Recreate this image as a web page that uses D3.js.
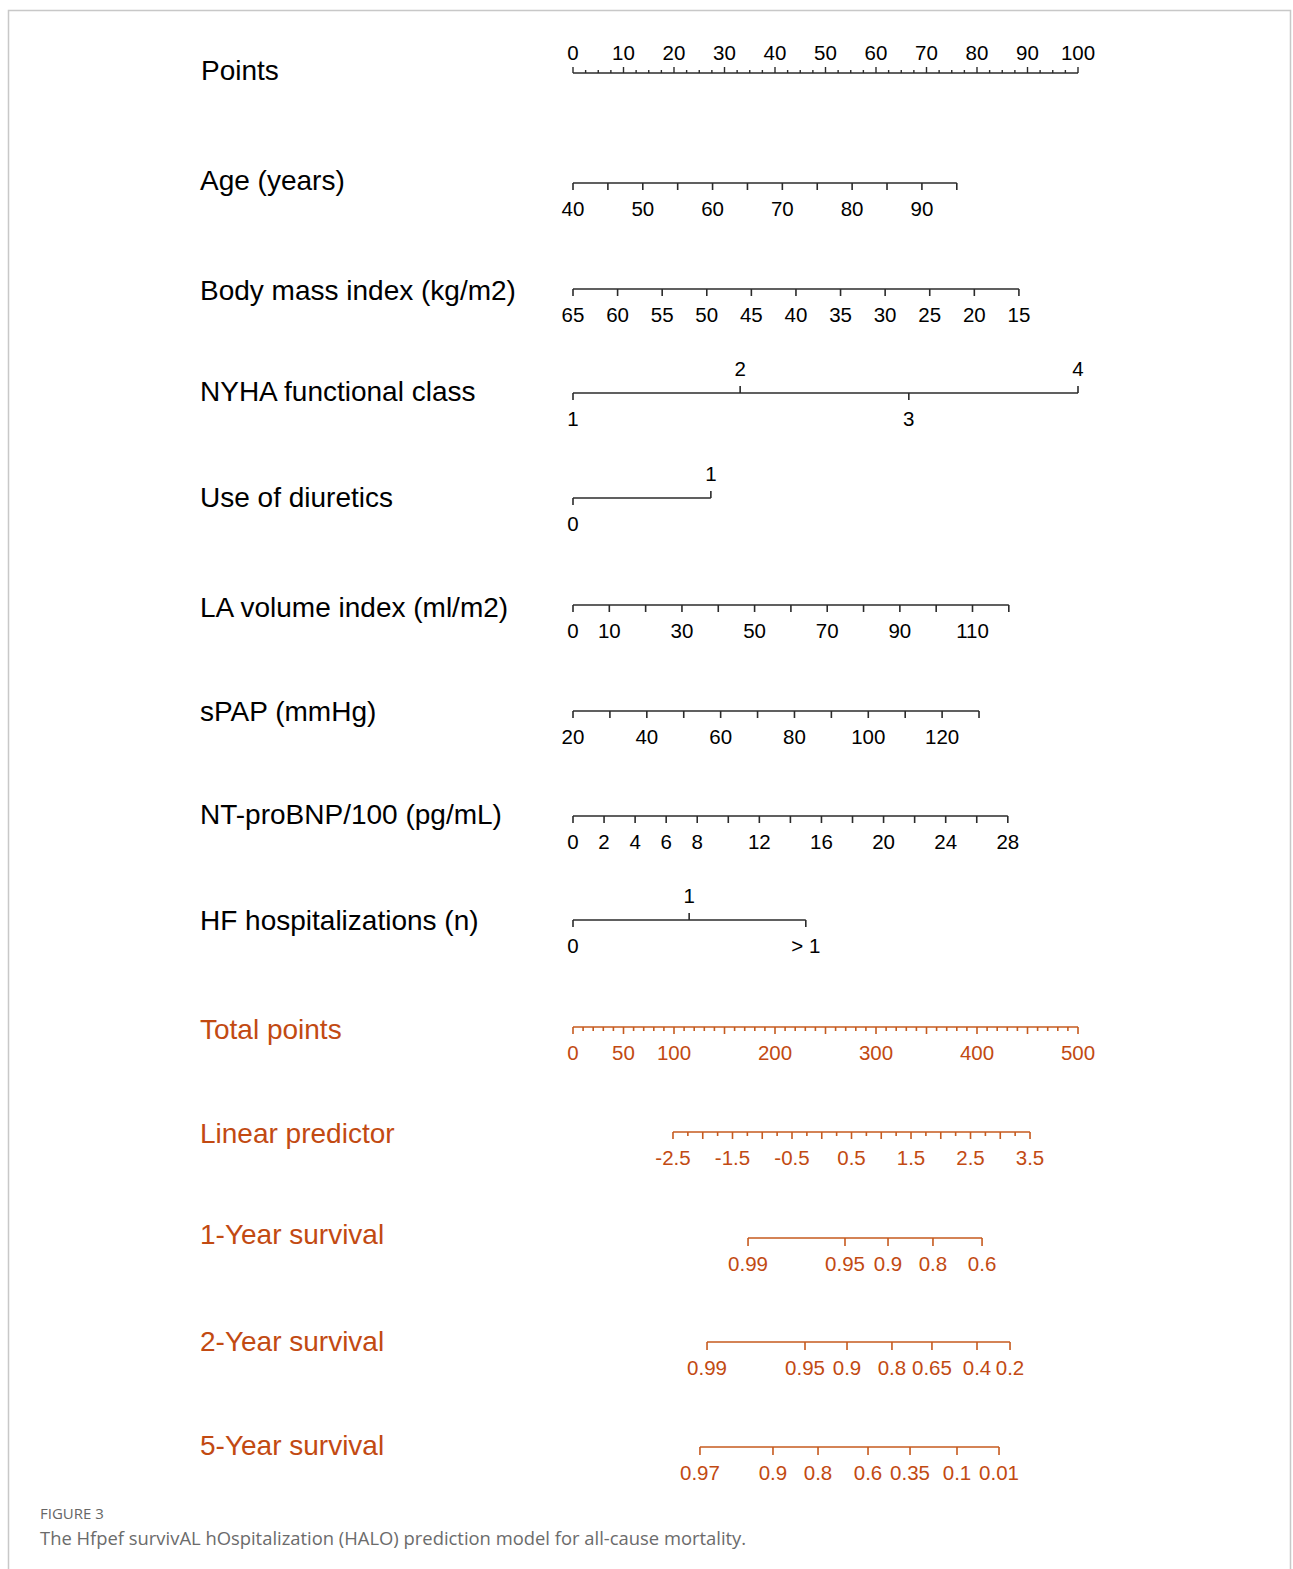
<!DOCTYPE html>
<html>
<head>
<meta charset="utf-8">
<script src="https://cdn.jsdelivr.net/npm/d3@7"></script>
<style>
  html, body { margin: 0; padding: 0; background: #fff; }
  svg { display: block; }
  .name { font-family: "Liberation Sans", Arial, sans-serif; font-size: 28px; }
  .tick-label { font-family: "Liberation Sans", Arial, sans-serif; font-size: 20.5px; }
  .caption-head { font-family: "Open Sans", Lato, sans-serif; font-size: 15px; fill: #666; }
  .caption { font-family: "Open Sans", Lato, sans-serif; font-size: 18.4px; fill: #6b6b6b; }
</style>
</head>
<body>
<div id="chart"></div>
<script>
// Nomogram values (points each value is worth)
const pointsTicks = d3.range(0, 101, 2.5);
const pointsLabels = [0, 10, 20, 30, 40, 50, 60, 70, 80, 90, 100];

const ageTicks = [40, 45, 50, 55, 60, 65, 70, 75, 80, 85, 90, 95];
const ageLabels = [40, 50, 60, 70, 80, 90];
const agePoints = [0, 76.0];          // points at age 40 and 95

const bmiTicks = [65, 60, 55, 50, 45, 40, 35, 30, 25, 20, 15];
const bmiPoints = [0, 88.3];          // points at bmi 65 and 15

const nyhaClasses = ['1', '2', '3', '4'];
const nyhaPoints = [0, 33.1, 66.5, 100];

const diureticsLevels = ['0', '1'];
const diureticsPoints = [0, 27.3];

const laTicks = [0, 10, 20, 30, 40, 50, 60, 70, 80, 90, 100, 110, 120];
const laLabels = [0, 10, 30, 50, 70, 90, 110];
const laPoints = [0, 86.3];

const spapTicks = [20, 30, 40, 50, 60, 70, 80, 90, 100, 110, 120, 130];
const spapLabels = [20, 40, 60, 80, 100, 120];
const spapPoints = [0, 80.4];

const bnpTicks = [0, 2, 4, 6, 8, 10, 12, 14, 16, 18, 20, 22, 24, 26, 28];
const bnpLabels = [0, 2, 4, 6, 8, 12, 16, 20, 24, 28];
const bnpPoints = [0, 86.1];

const hfLevels = ['0', '1', '> 1'];
const hfPoints = [0, 23.0, 46.1];

const totalTicks = d3.range(0, 501, 10);
const totalLabels = [0, 50, 100, 200, 300, 400, 500];

const lpTicks = d3.range(-2.5, 3.51, 0.25);
const lpLabels = [-2.5, -1.5, -0.5, 0.5, 1.5, 2.5, 3.5];
const lpTotal = [99.0, 452.5];         // total points at lp -2.5 and 3.5

const surv1Labels = ['0.99', '0.95', '0.9', '0.8', '0.6'];
const surv1Total = [173.3, 269.3, 311.9, 356.4, 405.0];
const surv2Labels = ['0.99', '0.95', '0.9', '0.8', '0.65', '0.4', '0.2'];
const surv2Total = [132.7, 229.7, 271.3, 315.8, 355.4, 400.0, 432.7];
const surv5Labels = ['0.97', '0.9', '0.8', '0.6', '0.35', '0.1', '0.01'];
const surv5Total = [125.7, 198.0, 242.6, 292.1, 333.7, 380.2, 421.8];

const W = 1293, H = 1569;
const BLACK = '#2b2b2b', ORANGE = '#c65a1e', ORANGE_TXT = '#c24a12';

const svg = d3.select('#chart').append('svg')
    .attr('width', W).attr('height', H);

// frame
svg.append('path')
    .attr('d', `M8.5,${H} V10.5 H1290.5 V${H}`)
    .attr('fill', 'none').attr('stroke', '#c8c8c8').attr('stroke-width', 1.5);

const xPoints = d3.scaleLinear().domain([0, 100]).range([573, 1078]);
const xTotal = d3.scaleLinear().domain([0, 500]).range([573, 1078]);

// draw one scale row: ticks = [{pos, label, side, len}]
function row(y, name, ticks, color, txtColor, nameDy) {
    const g = svg.append('g').attr('transform', `translate(0,${y})`);
    g.append('text').attr('class', 'name')
        .attr('x', 200).attr('y', nameDy || 0).attr('dy', '0.35em')
        .attr('fill', txtColor).text(name);
    const ext = d3.extent(ticks, d => d.pos);
    g.append('line')
        .attr('x1', ext[0]).attr('x2', ext[1])
        .attr('stroke', color).attr('stroke-width', 1.6);
    g.selectAll('line.tk').data(ticks).enter().append('line')
        .attr('class', 'tk')
        .attr('x1', d => d.pos).attr('x2', d => d.pos)
        .attr('y1', 0).attr('y2', d => d.side === 'up' ? -d.len : d.len)
        .attr('stroke', color).attr('stroke-width', 1.6);
    g.selectAll('text.tick-label').data(ticks.filter(d => d.label != null)).enter()
        .append('text').attr('class', 'tick-label')
        .attr('x', d => d.pos)
        .attr('y', d => d.side === 'up' ? -24 : 26)
        .attr('dy', '0.35em')
        .attr('text-anchor', 'middle')
        .attr('fill', txtColor)
        .text(d => d.label);
}

function numericTicks(values, labels, domain, pts) {
    const s = d3.scaleLinear().domain(domain).range(pts);
    return values.map(v => ({
        pos: xPoints(s(v)),
        label: labels.includes(v) ? v : null,
        side: 'down', len: 7
    }));
}

// Points axis: line with ticks pointing up, labels above
(function () {
    const g = svg.append('g').attr('transform', 'translate(0,73)');
    g.append('text').attr('class', 'name').attr('x', 201).attr('y', -3)
        .attr('dy', '0.35em').attr('fill', '#000').text('Points');
    g.append('line').attr('x1', xPoints(0)).attr('x2', xPoints(100))
        .attr('stroke', BLACK).attr('stroke-width', 1.6);
    g.selectAll('line.tk').data(pointsTicks).enter().append('line')
        .attr('x1', d => xPoints(d)).attr('x2', d => xPoints(d))
        .attr('y1', 0).attr('y2', d => pointsLabels.includes(d) ? -6 : -3)
        .attr('stroke', BLACK).attr('stroke-width', 1.4);
    g.selectAll('text.tick-label').data(pointsLabels).enter().append('text')
        .attr('class', 'tick-label').attr('x', d => xPoints(d)).attr('y', -20)
        .attr('dy', '0.35em')
        .attr('text-anchor', 'middle').attr('fill', '#000').text(d => d);
})();

row(183, 'Age (years)', numericTicks(ageTicks, ageLabels, [40, 95], agePoints), BLACK, '#000', -3);
row(289, 'Body mass index (kg/m2)', numericTicks(bmiTicks, bmiTicks, [65, 15], bmiPoints), BLACK, '#000', 1);
row(393, 'NYHA functional class', nyhaClasses.map((c, i) => ({
    pos: xPoints(nyhaPoints[i]), label: c, side: i % 2 ? 'up' : 'down', len: 7
})), BLACK, '#000', -2);
row(498, 'Use of diuretics', diureticsLevels.map((c, i) => ({
    pos: xPoints(diureticsPoints[i]), label: c, side: i % 2 ? 'up' : 'down', len: 7
})), BLACK, '#000', -1);
row(605, 'LA volume index (ml/m2)', numericTicks(laTicks, laLabels, [0, 120], laPoints), BLACK, '#000', 2);
row(711, 'sPAP (mmHg)', numericTicks(spapTicks, spapLabels, [20, 130], spapPoints), BLACK, '#000', 0);
row(816, 'NT-proBNP/100 (pg/mL)', numericTicks(bnpTicks, bnpLabels, [0, 28], bnpPoints), BLACK, '#000', -2);
row(920, 'HF hospitalizations (n)', hfLevels.map((c, i) => ({
    pos: xPoints(hfPoints[i]), label: c, side: i % 2 ? 'up' : 'down', len: 7
})), BLACK, '#000', 0);

// Total points
row(1027, 'Total points', totalTicks.map(v => ({
    pos: xTotal(v), label: totalLabels.includes(v) ? v : null,
    side: 'down', len: v % 50 === 0 ? 7 : 4
})), ORANGE, ORANGE_TXT, 2);

// Linear predictor
const lpScale = d3.scaleLinear().domain([-2.5, 3.5]).range(lpTotal);
row(1132, 'Linear predictor', lpTicks.map(v => {
    const r = Math.round(v * 100) / 100;
    return {
        pos: xTotal(lpScale(r)),
        label: lpLabels.includes(r) ? r : null,
        side: 'down', len: (r * 2) % 1 === 0 ? 7 : 4
    };
}), ORANGE, ORANGE_TXT, 1);

function survTicks(labels, totals) {
    return labels.map((l, i) => ({ pos: xTotal(totals[i]), label: l, side: 'down', len: 8 }));
}
row(1238, '1-Year survival', survTicks(surv1Labels, surv1Total), ORANGE, ORANGE_TXT, -4);
row(1342, '2-Year survival', survTicks(surv2Labels, surv2Total), ORANGE, ORANGE_TXT, -1);
row(1447, '5-Year survival', survTicks(surv5Labels, surv5Total), ORANGE, ORANGE_TXT, -2);

// caption
svg.append('text').attr('class', 'caption-head').attr('x', 40).attr('y', 1519).text('FIGURE 3');
svg.append('text').attr('class', 'caption').attr('x', 40).attr('y', 1545)
    .text('The Hfpef survivAL hOspitalization (HALO) prediction model for all-cause mortality.');
</script>
</body>
</html>
